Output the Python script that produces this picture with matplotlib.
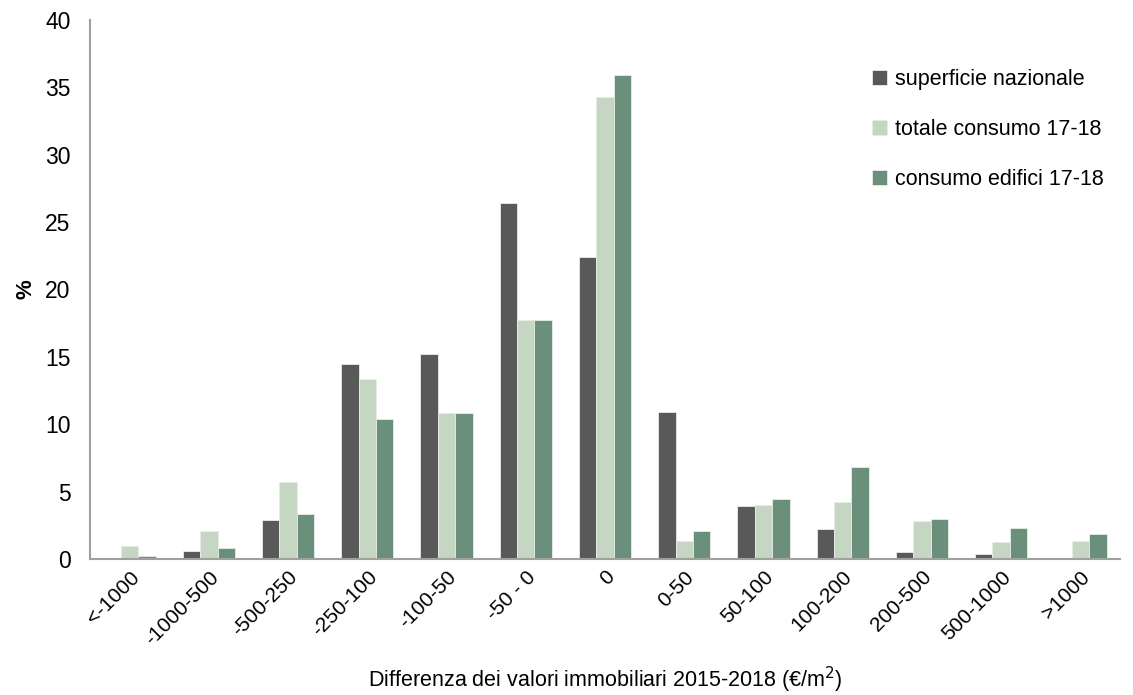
import numpy as np
import matplotlib.pyplot as plt

plt.rcParams['font.family'] = ['Liberation Sans', 'DejaVu Sans']

categories = ['<-1000', '-1000-500', '-500-250', '-250-100', '-100-50', '-50 - 0', '0',
              '0-50', '50-100', '100-200', '200-500', '500-1000', '>1000']
superficie = [0.0, 0.6, 2.87, 14.5, 15.2, 26.4, 22.4, 10.9, 3.93, 2.2, 0.5, 0.37, 0.0]
totale = [0.99, 2.1, 5.74, 13.35, 10.8, 17.7, 34.3, 1.3, 4.0, 4.2, 2.85, 1.28, 1.33]
edifici = [0.25, 0.82, 3.37, 10.4, 10.85, 17.7, 35.9, 2.1, 4.45, 6.8, 2.97, 2.3, 1.88]

series = [
    ('superficie nazionale', superficie, '#595959'),
    ('totale consumo 17-18', totale, '#c5d6c3'),
    ('consumo edifici 17-18', edifici, '#6a8f7a'),
]

fig = plt.figure(figsize=(11.33, 6.95), dpi=100)
ax = fig.add_axes([90 / 1133, 1 - 559 / 695, 1030 / 1133, 539 / 695])

x = np.arange(len(categories))
w = 0.22
for i, (name, vals, col) in enumerate(series):
    ax.bar(x + (i - 1) * w, vals, width=w, color=col, edgecolor='#e8ece8',
           linewidth=0.6, label=name)

ax.set_xlim(-0.5, len(categories) - 0.5)
ax.set_ylim(0, 40)
ax.set_yticks(range(0, 41, 5))
ax.tick_params(axis='y', length=0, labelsize=16.5, pad=14)
ax.tick_params(axis='x', length=0, labelsize=15, pad=6)
ax.set_xticks(x)
ax.set_xticklabels(categories, rotation=45, ha='right', rotation_mode='anchor')
ax.set_ylabel('%', fontsize=16, fontweight='bold', labelpad=6)
ax.set_xlabel('Differenza dei valori immobiliari 2015-2018 (€/m$^2$)', fontsize=15.5, labelpad=12)

for s in ['top', 'right']:
    ax.spines[s].set_visible(False)
for s in ['left', 'bottom']:
    ax.spines[s].set_color('#a0a0a0')
    ax.spines[s].set_linewidth(1.5)

ax.legend(loc='upper left', bbox_to_anchor=(0.74, 0.945), frameon=False, fontsize=15.5,
          handlelength=0.7, handleheight=0.7, handletextpad=0.4, labelspacing=1.35)

fig.savefig('out.png', dpi=100)
